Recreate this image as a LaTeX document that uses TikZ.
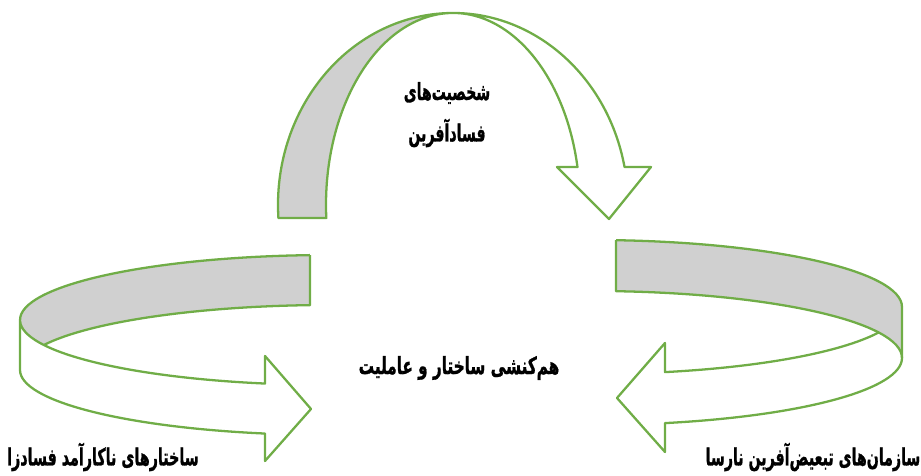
\documentclass[tikz,border=0pt]{standalone}
\usepackage{fontspec}
\usetikzlibrary{calc}
\TeXXeTstate=1
\newfontfamily\arabicfont[Script=Arabic,BoldFeatures={FakeBold=1.2}]{DejaVu Sans}
\definecolor{ribbongreen}{HTML}{70AD47}
\definecolor{ribbongray}{HTML}{D0D0D0}
\tikzset{
  outline/.style={draw=ribbongreen, line width=1.3pt, line join=round},
  backband/.style={fill=ribbongray},
  label/.style={font=\arabicfont\bfseries\fontsize{13.5}{15}\selectfont, inner sep=0pt, align=center}
}
\begin{document}
\begin{tikzpicture}[x=0.02cm,y=0.02cm]
\useasboundingbox (0,0) rectangle (921,476);
% ---------- top arrow ----------
\coordinate (C) at (453,271);
\fill[backband] ($(C)+(183.9:175 and 192)$) arc[start angle=183.9,end angle=90,x radius=175,y radius=192]
  -- ($(C)+(90:127 and 192)$) arc[start angle=90,end angle=183.9,x radius=127,y radius=192] -- cycle;
\coordinate (tR) at (651,309);
\coordinate (tT) at (609,257);
\coordinate (tL) at (557,309);
\draw[outline] ($(C)+(183.9:175 and 192)$) arc[start angle=183.9,end angle=11.4,x radius=175,y radius=192]
  -- (tR) -- (tT) -- (tL)
  -- ($(C)+(11.4:127 and 192)$) arc[start angle=11.4,end angle=183.9,x radius=127,y radius=192] -- cycle;
% ---------- left arrow ----------
\coordinate (U) at (330,156);
\coordinate (L) at (330,106);
\fill[backband] ($(U)+(93.7:310 and 65)$) arc[start angle=93.7,end angle=202.6,x radius=310,y radius=65]
  -- ($(L)+(157.4:310 and 65)$) arc[start angle=157.4,end angle=93.7,x radius=310,y radius=65] -- cycle;
\coordinate (lA) at (265,120);
\coordinate (lT) at (311,67);
\coordinate (lB) at (265,15);
\draw[outline] ($(U)+(93.7:310 and 65)$) arc[start angle=93.7,end angle=257.9,x radius=310,y radius=65]
  -- (lA) -- (lT) -- (lB)
  -- ($(L)+(257.9:310 and 65)$) arc[start angle=257.9,end angle=180,x radius=310,y radius=65]
  -- ($(U)+(180:310 and 65)$);
\draw[outline] ($(L)+(157.4:310 and 65)$) arc[start angle=157.4,end angle=93.7,x radius=310,y radius=65]
  -- ($(U)+(93.7:310 and 65)$);
% ---------- right arrow ----------
\coordinate (U2) at (592,169);
\coordinate (L2) at (592,118);
\fill[backband] ($(U2)+(85.56:310 and 67)$) arc[start angle=85.56,end angle=0,x radius=310,y radius=67]
  -- ($(L2)+(0:310 and 67)$) arc[start angle=0,end angle=85.56,x radius=310,y radius=67] -- cycle;
\coordinate (rA) at (665,133);
\coordinate (rT) at (617,78);
\coordinate (rB) at (665,24);
\draw[outline] ($(U2)+(85.56:310 and 67)$) arc[start angle=85.56,end angle=0,x radius=310,y radius=67]
  -- ($(L2)+(0:310 and 67)$) arc[start angle=0,end angle=-76.38,x radius=310,y radius=67]
  -- (rB) -- (rT) -- (rA)
  -- ($(U2)+(-76.38:310 and 67)$) arc[start angle=-76.38,end angle=-22.37,x radius=310,y radius=67];
\draw[outline] ($(L2)+(0:310 and 67)$) arc[start angle=0,end angle=85.56,x radius=310,y radius=67]
  -- ($(U2)+(85.56:310 and 67)$);
% ---------- labels ----------
\node[label] (top1) at (447,383) {\scalebox{0.593}[1]{\beginR شخصیت^^^^200cهای\endR}};
\node[label] (top2) at (447,343) {\scalebox{0.597}[1]{\beginR فسادآفرین\endR}};
\node[label] (mid) at (459,108) {\scalebox{0.643}[1]{\beginR هم^^^^200cکنشی ساختار و عاملیت\endR}};
\node[label] (bl) at (103,19) {\scalebox{0.602}[1]{\beginR ساختارهای ناکارآمد فسادزا\endR}};
\node[label] (br) at (813,19) {\scalebox{0.597}[1]{\beginR سازمان^^^^200cهای تبعیض^^^^200cآفرین نارسا\endR}};
\end{tikzpicture}
\end{document}
